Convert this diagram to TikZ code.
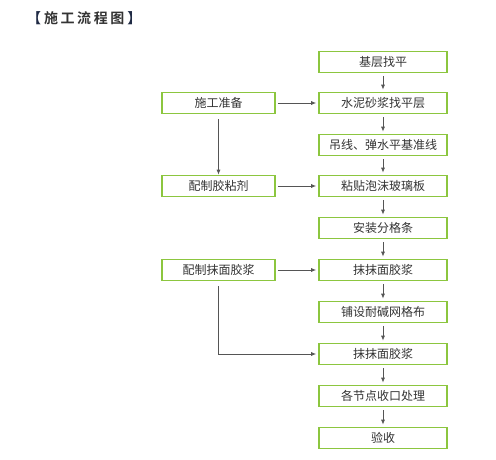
\documentclass[tikz,border=0pt]{standalone}
\usepackage{fontspec}
\setmainfont{Noto Sans CJK SC}
\newfontfamily\titlefont[LetterSpace=18,BoldFont={* Bold}]{Noto Sans CJK SC}
\usetikzlibrary{arrows.meta}
\definecolor{boxgreen}{HTML}{8CC63F}
\definecolor{txtgray}{HTML}{333333}
\definecolor{linegray}{HTML}{555555}
\definecolor{navy}{HTML}{1F2A44}
\begin{document}
\begin{tikzpicture}[x=1pt,y=-1pt,
  flowbox/.style={draw=boxgreen,line width=1.6pt,minimum width=128pt,minimum height=21pt,inner sep=0pt,font=\fontsize{12}{12}\selectfont,text=txtgray},
  leftbox/.style={flowbox,minimum width=113pt},
  conn/.style={draw=linegray,line width=0.8pt,-{Latex[length=5pt,width=4pt]}}]
\useasboundingbox (0,0) rectangle (496,459);
\node[anchor=west,inner sep=0pt,font=\titlefont\bfseries\fontsize{14}{14}\selectfont,text=txtgray] (title) at (27,18) {\textcolor{navy}{【}\hspace{3pt}施工流程图\hspace{3pt}\textcolor{navy}{】}};
\node[flowbox] (r1) at (383,62) {基层找平};
\node[flowbox] (r2) at (383,103) {水泥砂浆找平层};
\node[flowbox] (r3) at (383,145) {吊线、弹水平基准线};
\node[flowbox] (r4) at (383,186) {粘贴泡沫玻璃板};
\node[flowbox] (r5) at (383,228) {安装分格条};
\node[flowbox] (r6) at (383,270) {抹抹面胶浆};
\node[flowbox] (r7) at (383,312) {铺设耐碱网格布};
\node[flowbox] (r8) at (383,354) {抹抹面胶浆};
\node[flowbox] (r9) at (383,396) {各节点收口处理};
\node[flowbox] (r10) at (383,438) {验收};
\node[leftbox] (l1) at (218.5,103) {施工准备};
\node[leftbox] (l2) at (218.5,186) {配制胶粘剂};
\node[leftbox] (l3) at (218.5,270) {配制抹面胶浆};
\foreach \a/\b in {r1/r2,r2/r3,r3/r4,r4/r5,r5/r6,r6/r7,r7/r8,r8/r9,r9/r10}
  \draw[conn,shorten <=3pt,shorten >=2pt] (\a) -- (\b);
\foreach \a/\b in {l1/r2,l2/r4,l3/r6}
  \draw[conn,shorten <=2pt,shorten >=2pt] (\a) -- (\b);
\draw[conn,shorten <=5pt] (l1) -- (l2);
\draw[conn,shorten <=5pt,shorten >=2pt] (l3.south) |- (r8.west);
\end{tikzpicture}
\end{document}
